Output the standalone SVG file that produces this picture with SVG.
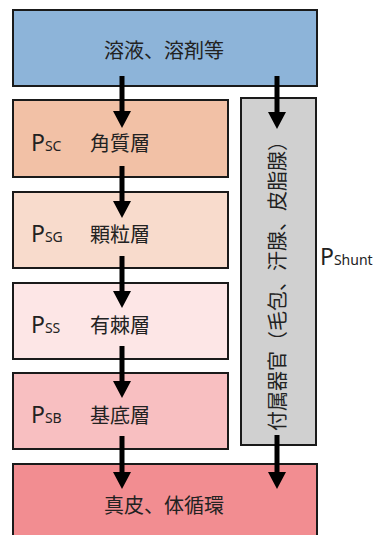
<svg xmlns="http://www.w3.org/2000/svg" width="374" height="535" viewBox="0 0 374 535">
<defs>
<style>
.box{stroke:#1a1a1a;stroke-width:2}
.t{font-family:"Noto Sans CJK JP","Noto Sans",sans-serif;font-size:20px;fill:#222}
.p{font-family:"Noto Sans","DejaVu Sans",sans-serif;font-size:23px;fill:#222}
.s{font-size:14px}
.ln{stroke:#000;stroke-width:5;fill:none}
.hd{fill:#000}
</style>
</defs>
<rect width="374" height="535" fill="#fff"/>
<g id="top"><rect class="box" x="13" y="10" width="304" height="76" fill="#8DB4D9"/><text class="t" x="164" y="58" text-anchor="middle">溶液、溶剤等</text></g>
<g id="sc"><rect class="box" x="13" y="100" width="215" height="77" fill="#F2C1A6"/><text class="p" x="31" y="151">P<tspan class="s">SC</tspan></text><text class="t" x="120" y="151" text-anchor="middle">角質層</text></g>
<g id="sg"><rect class="box" x="13" y="192" width="215" height="76" fill="#F8DBCC"/><text class="p" x="31" y="242">P<tspan class="s">SG</tspan></text><text class="t" x="120" y="242" text-anchor="middle">顆粒層</text></g>
<g id="ss"><rect class="box" x="13" y="283" width="215" height="76" fill="#FDE6E6"/><text class="p" x="31" y="333">P<tspan class="s">SS</tspan></text><text class="t" x="120" y="333" text-anchor="middle">有棘層</text></g>
<g id="sb"><rect class="box" x="13" y="373" width="215" height="76" fill="#F8BFC1"/><text class="p" x="31" y="423">P<tspan class="s">SB</tspan></text><text class="t" x="120" y="423" text-anchor="middle">基底層</text></g>
<g id="shunt"><rect class="box" x="241" y="98" width="75" height="347" fill="#D0D0D0"/><text class="t" transform="translate(285,281) rotate(-90)" text-anchor="middle">付属器官（毛包、汗腺、皮脂腺）</text><text class="p" x="320" y="265">P<tspan class="s">Shunt</tspan></text></g>
<g id="bottom"><rect class="box" x="13" y="464" width="304" height="80" fill="#F28D91"/><text class="t" x="164" y="513" text-anchor="middle">真皮、体循環</text></g>
<g id="connectors">
<path class="ln" d="M122 76V112M122 166V203M122 256V293M122 346V383M122 436V474M277 76V114M277 435V474"/>
<path class="hd" d="M113 111H131L122 128ZM113 201H131L122 218ZM113 291H131L122 308ZM113 381H131L122 398ZM113 472H131L122 489ZM268 112H286L277 129ZM268 472H286L277 489Z"/>
</g>
</svg>
